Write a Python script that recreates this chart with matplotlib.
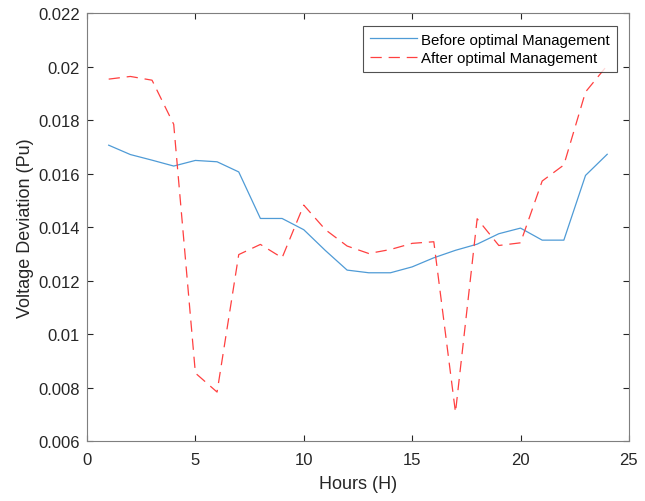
import numpy as np
import matplotlib
matplotlib.use("Agg")
import matplotlib.pyplot as plt

plt.rcParams["font.family"] = ["Liberation Sans", "DejaVu Sans"]

# hourly voltage deviation
hours = np.arange(1, 25)
before = [0.01706, 0.01671, 0.01650, 0.01628, 0.01649, 0.01644, 0.01606, 0.01432,
          0.01432, 0.01390, 0.01312, 0.01239, 0.01229, 0.01229, 0.01251, 0.01285,
          0.01313, 0.01336, 0.01375, 0.01396, 0.01351, 0.01351, 0.01593, 0.01672]
after = [0.01953, 0.01963, 0.01949, 0.01784, 0.00854, 0.00783, 0.01297, 0.01335,
         0.01285, 0.01482, 0.01390, 0.01329, 0.01301, 0.01316, 0.01339, 0.01345,
         0.00707, 0.01431, 0.01331, 0.01341, 0.01572, 0.01632, 0.01905, 0.02004]

fig = plt.figure(figsize=(6.45, 5.02), dpi=100)
ax = fig.add_axes([0.1349, 0.1195, 0.8401, 0.8525])

ax.plot(hours, before, color="#4f9bd6", lw=0.9, label="Before optimal Management")
ax.plot(hours, after, color="#ff4040", lw=0.9, ls=(0, (9, 5.5)), label="After optimal Management")

ax.set_xlim(0, 25)
ax.set_ylim(0.006, 0.022)
ax.set_xticks(np.arange(0, 26, 5))
ax.set_yticks(np.arange(0.006, 0.0221, 0.002))
ax.set_yticklabels(["0.006", "0.008", "0.01", "0.012", "0.014", "0.016", "0.018", "0.02", "0.022"])

ax.tick_params(direction="in", top=True, right=True, length=4, width=0.8,
               colors="#262626", labelsize=12)
ax.tick_params(axis="x", pad=8)
ax.tick_params(axis="y", pad=5)
for s in ax.spines.values():
    s.set_color("#7f7f7f")
    s.set_linewidth(0.8)

ax.set_xlabel("Hours (H)", fontsize=13, color="#262626", labelpad=6)
ax.set_ylabel("Voltage Deviation (Pu)", fontsize=13, color="#262626", labelpad=3)

leg = ax.legend(loc="upper right", bbox_to_anchor=(0.978, 0.970), fontsize=10.8,
                frameon=True, fancybox=False, handlelength=3.1, borderpad=0.45,
                labelspacing=0.3, handletextpad=0.33, borderaxespad=0)
leg.get_frame().set_edgecolor("#262626")
leg.get_frame().set_linewidth(0.8)

fig.savefig("out.png", dpi=100)
